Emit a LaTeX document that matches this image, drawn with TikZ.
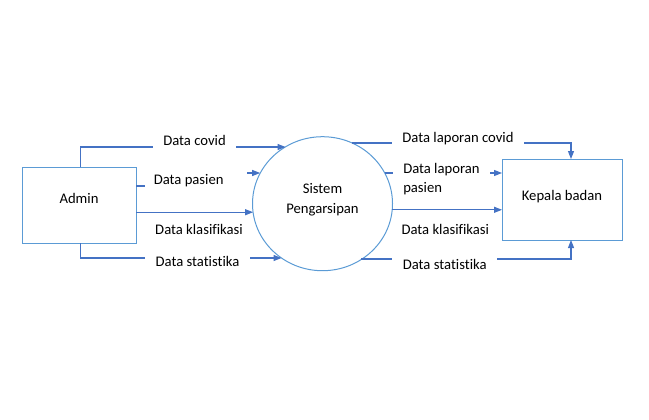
\documentclass[tikz,border=0pt]{standalone}
\usepackage{fontspec}
\setmainfont{Carlito}[Ligatures=NoCommon]
\usepackage{tikz}
\usetikzlibrary{shapes,arrows.meta}
\definecolor{trait}{HTML}{4472C4}
\definecolor{bord}{HTML}{5B9BD5}

\begin{document}
\begin{tikzpicture}[x=0.75pt,y=-0.75pt,font=\fontsize{11}{14.3}\selectfont,
  flux/.style={draw=trait,line width=0.8pt},
  fleche/.style={flux,-{Triangle[length=6pt,width=4.5pt]}},
  entite/.style={rectangle,draw=bord,line width=0.75pt,inner sep=0pt,outer sep=0pt}]
\useasboundingbox (0,0) rectangle (649,419);

  % entités et processus
  \node[entite,minimum width=85.5pt,minimum height=57pt,
        label={[yshift=5pt]center:Admin}] (admin) at (79,205) {};
  \node[entite,minimum width=90pt,minimum height=60.75pt,
        label={[yshift=2.5pt]center:Kepala badan}] (kepala) at (562,199.5) {};
  \node[ellipse,draw=bord,line width=0.75pt,minimum width=105pt,minimum height=100.5pt,
        inner sep=0pt,outer sep=0pt,
        label={[align=center,yshift=3pt]center:Sistem\\Pengarsipan}] (sys) at (322.5,203.7) {};

  % libellés
  \node (lcovid) at (194.5,140.5) {Data covid};
  \node (lpasien) at (188.7,180.7) {Data pasien};
  \node (lklas) at (199,229.3) {Data klasifikasi};
  \node (lstat) at (197.5,261) {Data statistika};
  \node (rcovid) at (458,138.3) {Data laporan covid};
  \node[align=left,anchor=west,inner xsep=0pt] (rpasien) at (403,179) {Data laporan\\pasien};
  \node (rklas) at (445.3,229.3) {Data klasifikasi};
  \node (rstat) at (444.7,264.3) {Data statistika};

  \coordinate (c1) at (153,147);  \coordinate (c2) at (236,147);
  \coordinate (p1) at (145,186);  \coordinate (p2) at (247,173);
  \coordinate (s1) at (145,258);  \coordinate (s2) at (250,258);
  \coordinate (rc1) at (392,143); \coordinate (rc2) at (524,143);
  \coordinate (rp1) at (393,173); \coordinate (rp2) at (490,173);
  \coordinate (rs1) at (392,259); \coordinate (rs2) at (497,259);

  % flux entrants
  \draw[flux] ([xshift=1.25pt]admin.north) |- (c1);
  \draw[fleche] (c2) -- (c2 -| sys.123);
  \draw[flux] (admin.east |- p1) -- (p1);
  \draw[fleche] (p2) -- (p2 -| sys.154);
  \draw[fleche] (admin.east |- sys.187) -- (sys.187);
  \draw[flux] ([xshift=1.25pt]admin.south) |- (s1);
  \draw[fleche] (s2) -- (s2 -| sys.233);

  % flux sortants
  \draw[flux] (rc1 -| sys.64) -- (rc1);
  \draw[fleche] (rc2) -| ([xshift=6.75pt]kepala.north);
  \draw[flux] (rp1 -| sys.26) -- (rp1);
  \draw[fleche] (rp2) -- (rp2 -| kepala.west);
  \draw[fleche] (sys.355) -- (sys.355 -| kepala.west);
  \draw[flux] (rs1 -| sys.305) -- (rs1);
  \draw[fleche] (rs2) -| ([xshift=6.75pt]kepala.south);

\end{tikzpicture}
\end{document}
